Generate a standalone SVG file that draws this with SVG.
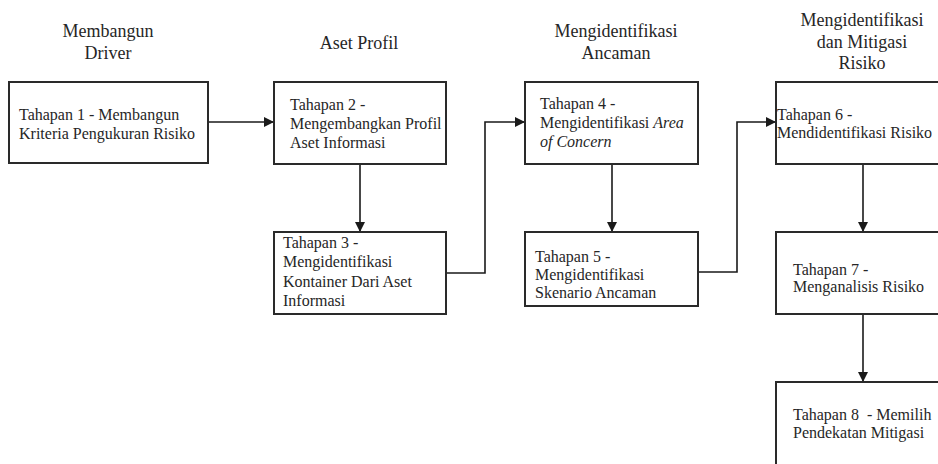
<svg xmlns="http://www.w3.org/2000/svg" width="938" height="464" viewBox="0 0 938 464">
<defs>
<marker id="ah" markerWidth="10" markerHeight="10" refX="9" refY="5" orient="auto" markerUnits="userSpaceOnUse">
<path d="M0,0 L10,5 L0,10 Z" fill="#1a1a1a"/>
</marker>
<style>
.box{fill:#fff;stroke:#2a2a2a;stroke-width:2}
.t{font-family:Liberation Serif, serif;font-size:16px;fill:#262626}
.h{font-family:Liberation Serif, serif;font-size:18px;fill:#262626;text-anchor:middle}
.c{fill:none;stroke:#1a1a1a;stroke-width:1.6}
</style>
</defs>
<rect width="938" height="464" fill="#fff"/>
<g id="headers">
<text class="h" x="108" y="37">Membangun</text>
<text class="h" x="108" y="59">Driver</text>
<text class="h" x="359" y="49">Aset Profil</text>
<text class="h" x="616" y="37">Mengidentifikasi</text>
<text class="h" x="616" y="59">Ancaman</text>
<text class="h" x="862" y="26">Mengidentifikasi</text>
<text class="h" x="862" y="47.5">dan Mitigasi</text>
<text class="h" x="862" y="69">Risiko</text>
</g>
<g id="connectors">
<path class="c" d="M208,122 H273" marker-end="url(#ah)"/>
<path class="c" d="M360,164 V231" marker-end="url(#ah)"/>
<path class="c" d="M446,273 H485 V122 H524" marker-end="url(#ah)"/>
<path class="c" d="M612,164 V231" marker-end="url(#ah)"/>
<path class="c" d="M698,272 H737 V122 H775" marker-end="url(#ah)"/>
<path class="c" d="M863,164 V231" marker-end="url(#ah)"/>
<path class="c" d="M863,314 V381" marker-end="url(#ah)"/>
</g>
<g id="node1">
<rect class="box" x="9" y="82" width="199" height="81"/>
<text class="t" x="19" y="120">Tahapan 1 - Membangun</text>
<text class="t" x="19" y="139">Kriteria Pengukuran Risiko</text>
</g>
<g id="node2">
<rect class="box" x="274" y="82" width="172" height="82"/>
<text class="t" x="290" y="110">Tahapan 2 -</text>
<text class="t" x="290" y="129">Mengembangkan Profil</text>
<text class="t" x="290" y="148">Aset Informasi</text>
</g>
<g id="node3">
<rect class="box" x="274" y="232" width="172" height="82"/>
<text class="t" x="283" y="248">Tahapan 3 -</text>
<text class="t" x="283" y="267">Mengidentifikasi</text>
<text class="t" x="283" y="287">Kontainer Dari Aset</text>
<text class="t" x="283" y="306">Informasi</text>
</g>
<g id="node4">
<rect class="box" x="525" y="82" width="173" height="82"/>
<text class="t" x="540" y="109">Tahapan 4 -</text>
<text class="t" x="540" y="128">Mengidentifikasi <tspan font-style="italic">Area</tspan></text>
<text class="t" x="540" y="147" font-style="italic">of Concern</text>
</g>
<g id="node5">
<rect class="box" x="525" y="232" width="173" height="74"/>
<text class="t" x="535" y="262">Tahapan 5 -</text>
<text class="t" x="535" y="280">Mengidentifikasi</text>
<text class="t" x="535" y="298">Skenario Ancaman</text>
</g>
<g id="node6">
<rect class="box" x="776" y="82" width="170" height="82"/>
<text class="t" x="777" y="120">Tahapan 6 -</text>
<text class="t" x="777" y="138">Mendidentifikasi Risiko</text>
</g>
<g id="node7">
<rect class="box" x="776" y="232" width="170" height="82"/>
<text class="t" x="793" y="275">Tahapan 7 -</text>
<text class="t" x="793" y="292">Menganalisis Risiko</text>
</g>
<g id="node8">
<rect class="box" x="776" y="382" width="170" height="90"/>
<text class="t" x="793" y="420" xml:space="preserve">Tahapan 8  - Memilih</text>
<text class="t" x="793" y="438">Pendekatan Mitigasi</text>
</g>
</svg>
